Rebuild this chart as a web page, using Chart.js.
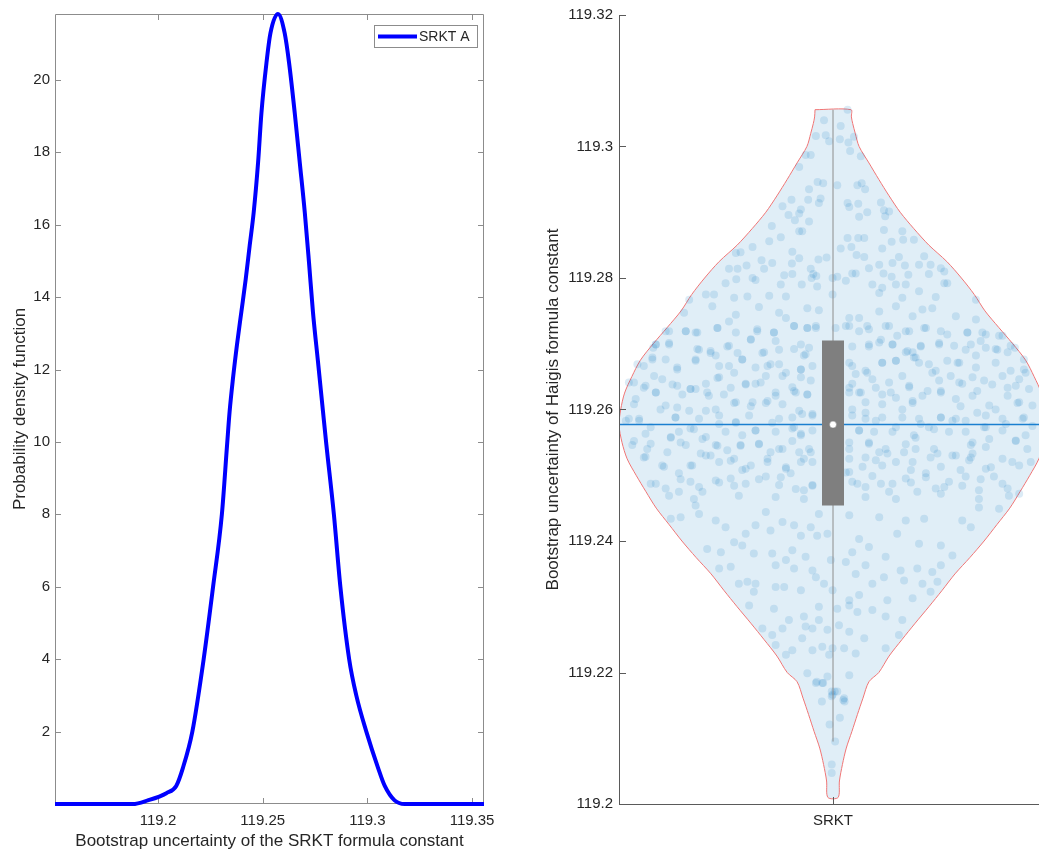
<!DOCTYPE html>
<html>
<head>
<meta charset="utf-8">
<script src="https://cdn.jsdelivr.net/npm/chart.js@4.4.1/dist/chart.umd.min.js"></script>
<style>
  html, body { margin: 0; padding: 0; background: #fff; }
  body { width: 1039px; height: 852px; position: relative; overflow: hidden; }
  #pdfChart { position: absolute; left: 0; top: 0; }
  #violinChart { position: absolute; left: 530px; top: 0; }
</style>
</head>
<body>
<canvas id="pdfChart" width="520" height="852"></canvas>
<canvas id="violinChart" width="509" height="852"></canvas>
<script>
const FONT = "'Liberation Sans', Arial, sans-serif";
const TEXT = "#262626";

// left panel: density of the bootstrapped SRKT A constant
const pdfLabel = "SRKT A";
const pdfX = [119.1508, 119.170, 119.1879, 119.1951, 119.2040, 119.2087, 119.2119, 119.2164, 119.2218, 119.2263,
  119.2305, 119.2330, 119.2342, 119.2358, 119.2377, 119.2398, 119.2419, 119.2438, 119.2457, 119.2478, 119.2494,
  119.2518, 119.2537, 119.2573, 119.2605, 119.2626, 119.2653, 119.2677, 119.2701, 119.2721, 119.2740, 119.2764,
  119.2788, 119.2804, 119.2840, 119.2871, 119.2913, 119.2947, 119.2995, 119.3051, 119.3083, 119.3130, 119.3178,
  119.335, 119.3557];
const pdfY = [0, 0, 0, 0.1, 0.3, 0.5, 1, 2, 4, 6,
  8, 9.93, 10.84, 11.75, 12.68, 13.59, 14.5, 15.43, 16.34, 17.72, 19.09,
  20.47, 21.29, 21.82, 21.29, 20.47, 19.09, 17.72, 16.34, 14.97, 13.59, 12.22,
  10.84, 9.93, 8, 6, 4, 3, 2, 1, 0.5, 0.1, 0,
  0, 0];
const pdfXTicks = [119.2, 119.25, 119.3, 119.35];
const pdfYTicks = [2, 4, 6, 8, 10, 12, 14, 16, 18, 20];
const pdfXMin = 119.1508, pdfXMax = 119.3557, pdfYMax = 21.82;

// right panel: violin of the bootstrapped Haigis constant
const categories = ["SRKT"];
const violinYTicks = [119.2, 119.22, 119.24, 119.26, 119.28, 119.3, 119.32];
const violinY = [119.3056, 119.3045, 119.3035, 119.302, 119.300, 119.2975, 119.295, 119.2925, 119.290, 119.2875,
  119.285, 119.2825, 119.280, 119.2775, 119.275, 119.2725, 119.270, 119.2675, 119.265, 119.2625, 119.260,
  119.2577, 119.255, 119.2525, 119.250, 119.2475, 119.245, 119.2425, 119.240, 119.2375, 119.235, 119.2325,
  119.230, 119.2275, 119.225, 119.2225, 119.220, 119.2186, 119.2161, 119.2136, 119.211, 119.2085, 119.206,
  119.2035, 119.201];
const violinHW = [0.042, 0.043, 0.046, 0.052, 0.061, 0.084, 0.107, 0.131, 0.157, 0.189,
  0.224, 0.266, 0.300, 0.330, 0.355, 0.387, 0.420, 0.450, 0.470, 0.487, 0.496,
  0.5, 0.493, 0.481, 0.460, 0.437, 0.413, 0.383, 0.353, 0.320, 0.285, 0.255,
  0.224, 0.192, 0.161, 0.131, 0.107, 0.084, 0.070, 0.057, 0.044, 0.031, 0.022,
  0.015, 0.012];
const boxQ1 = 119.2454, boxQ3 = 119.2705;
const whiskerLow = 119.2095, whiskerHigh = 119.3056;
const medianValue = 119.2577;
const meanValue = 119.2577;
const dots = [
  [0.979,119.3040],[1.018,119.3031],[1.034,119.3056],[0.960,119.3016],[0.983,119.3017],[0.991,119.3008],[1.036,119.3006],
  [1.049,119.3015],[1.016,119.3011],[1.040,119.2993],[0.936,119.2987],[0.948,119.2987],[0.921,119.2969],[1.065,119.2985],
  [0.964,119.2946],[0.977,119.2944],[1.010,119.2941],[1.057,119.2941],[1.067,119.2944],[1.075,119.2935],[0.944,119.2935],
  [0.942,119.2919],[0.971,119.2921],[0.967,119.2914],[0.903,119.2919],[0.882,119.2909],[0.925,119.2904],[0.921,119.2898],
  [0.911,119.2888],[0.896,119.2896],[0.944,119.2886],[0.921,119.2871],[0.928,119.2871],[1.034,119.2914],[1.038,119.2908],
  [1.059,119.2913],[1.080,119.2900],[1.061,119.2893],[1.112,119.2915],[1.119,119.2903],[1.131,119.2901],[1.122,119.2894],
  [0.857,119.2879],[0.878,119.2862],[0.851,119.2856],[0.812,119.2847],[0.905,119.2840],[0.921,119.2830],[0.966,119.2828],
  [0.985,119.2831],[1.018,119.2845],[1.043,119.2847],[1.034,119.2861],[1.059,119.2861],[1.073,119.2861],[1.119,119.2873],
  [1.162,119.2871],[1.115,119.2845],[1.137,119.2855],[1.164,119.2858],[1.189,119.2858],[1.055,119.2835],[1.073,119.2832],
  [1.154,119.2832],[1.213,119.2833],[0.773,119.2838],[0.784,119.2839],[0.798,119.2819],[0.777,119.2814],[0.757,119.2814],
  [0.833,119.2827],[0.858,119.2823],[0.839,119.2814],[0.904,119.2822],[0.886,119.2804],[0.905,119.2806],[0.948,119.2814],
  [0.954,119.2806],[0.950,119.2800],[0.961,119.2803],[0.999,119.2800],[1.010,119.2802],[1.030,119.2796],[1.045,119.2807],
  [1.053,119.2807],[1.084,119.2815],[1.108,119.2820],[1.139,119.2823],[1.168,119.2819],[1.201,119.2820],[1.228,119.2820],
  [1.252,119.2815],[1.260,119.2810],[1.224,119.2806],[1.118,119.2807],[1.137,119.2802],[1.176,119.2805],[0.774,119.2798],
  [0.749,119.2792],[0.819,119.2797],[0.812,119.2800],[0.878,119.2790],[0.927,119.2790],[0.963,119.2787],[0.999,119.2775],
  [1.092,119.2790],[1.115,119.2785],[1.147,119.2790],[1.170,119.2790],[1.201,119.2780],[1.267,119.2792],[1.260,119.2792],
  [0.703,119.2775],[0.722,119.2775],[0.769,119.2770],[0.800,119.2772],[0.851,119.2773],[0.890,119.2772],[1.108,119.2777],
  [1.162,119.2770],[1.240,119.2771],[1.334,119.2767],[0.664,119.2767],
  [0.652,119.2747],[0.718,119.2757],[0.773,119.2744],[0.827,119.2756],[0.874,119.2747],[0.940,119.2754],[0.967,119.2751],
  [1.038,119.2739],[1.061,119.2739],[1.108,119.2749],[1.147,119.2757],[1.186,119.2742],[1.209,119.2752],[1.232,119.2754],
  [1.287,119.2742],[1.334,119.2737],[0.609,119.2719],[0.656,119.2719],[0.683,119.2717],[0.730,119.2724],[0.757,119.2734],
  [0.823,119.2719],[0.862,119.2717],[0.890,119.2739],[0.909,119.2727],[0.940,119.2724],[0.960,119.2727],[1.006,119.2724],
  [1.030,119.2727],[1.080,119.2727],[1.131,119.2727],[1.170,119.2719],[1.217,119.2724],[1.267,119.2714],[1.314,119.2717],
  [1.357,119.2714],[1.396,119.2712],[0.580,119.2694],[0.586,119.2699],[0.617,119.2701],[0.687,119.2691],[0.714,119.2686],
  [0.753,119.2696],[0.777,119.2686],[0.808,119.2706],[0.835,119.2686],[0.874,119.2691],[0.925,119.2699],[0.936,119.2684],
  [1.045,119.2696],[1.084,119.2696],[1.112,119.2706],[1.139,119.2699],[1.174,119.2689],[1.205,119.2696],[1.248,119.2701],
  [1.310,119.2691],[1.345,119.2704],[1.384,119.2691],[1.425,119.2694],[0.543,119.2669],[0.578,119.2679],[0.636,119.2661],
  [0.679,119.2674],[0.734,119.2666],[0.788,119.2676],[0.819,119.2664],[0.854,119.2669],[0.890,119.2656],[0.925,119.2661],
  [1.045,119.2666],[1.076,119.2659],[1.115,119.2671],[1.147,119.2674],[1.189,119.2679],[1.201,119.2671],[1.240,119.2659],
  [1.291,119.2671],[1.334,119.2664],[1.380,119.2671],[1.415,119.2659],[1.446,119.2661],[0.523,119.2641],[0.558,119.2633],
  [0.586,119.2626],[0.625,119.2638],[0.667,119.2631],[0.706,119.2626],[0.730,119.2648],[0.761,119.2633],[0.796,119.2638],
  [0.831,119.2641],[0.866,119.2626],[0.909,119.2628],[0.940,119.2623],[1.038,119.2633],[1.065,119.2626],[1.100,119.2633],
  [1.135,119.2626],[1.178,119.2636],[1.221,119.2628],[1.252,119.2628],[1.295,119.2641],[1.337,119.2628],[1.372,119.2638],
  [1.408,119.2633],[1.435,119.2646],[1.458,119.2631],[0.535,119.2608],[0.597,119.2600],[0.636,119.2603],[0.664,119.2598],
  [0.703,119.2598],[0.726,119.2600],[0.769,119.2610],[0.808,119.2605],[0.843,119.2610],[0.882,119.2608],[0.921,119.2598],
  [0.952,119.2593],[1.045,119.2600],[1.076,119.2595],[1.115,119.2608],[1.162,119.2600],[1.186,119.2610],[1.252,119.2588],
  [1.298,119.2605],[1.337,119.2595],[1.380,119.2600],[1.431,119.2610],[1.446,119.2588],[0.516,119.2583],[0.547,119.2583],
  [0.574,119.2573],[0.632,119.2588],[0.675,119.2570],[0.734,119.2578],[0.773,119.2580],[0.819,119.2568],[0.858,119.2580],
  [0.909,119.2573],[0.925,119.2563],[1.061,119.2568],[1.100,119.2583],[1.147,119.2573],[1.205,119.2578],[1.236,119.2570],
  [1.279,119.2583],[1.353,119.2573],[1.404,119.2578],[1.466,119.2575],[0.535,119.2552],[0.566,119.2540],[0.621,119.2557],
  [0.644,119.2550],[0.695,119.2555],[0.730,119.2545],[0.784,119.2545],[0.827,119.2547],[0.874,119.2540],[0.905,119.2552],
  [0.944,119.2540],[1.038,119.2550],[1.084,119.2550],[1.123,119.2540],[1.170,119.2547],[1.193,119.2557],[1.236,119.2540],
  [1.326,119.2550],[1.365,119.2555],[1.427,119.2552],[0.558,119.2527],[0.601,119.2515],[0.667,119.2515],[0.703,119.2530],
  [0.761,119.2522],[0.796,119.2510],[0.847,119.2525],[0.890,119.2512],[0.932,119.2525],[1.038,119.2525],[1.076,119.2527],
  [1.115,119.2515],[1.186,119.2520],[1.228,119.2527],[1.287,119.2530],[1.322,119.2527],[1.369,119.2512],[1.419,119.2520],
  [0.586,119.2487],[0.644,119.2494],[0.687,119.2482],[0.734,119.2489],[0.769,119.2484],[0.827,119.2494],[0.878,119.2497],
  [0.913,119.2479],[0.952,119.2484],[1.030,119.2504],[1.057,119.2487],[1.092,119.2499],[1.139,119.2487],[1.182,119.2489],
  [1.217,119.2497],[1.260,119.2482],[1.302,119.2484],[1.345,119.2494],[1.396,119.2487],[0.617,119.2469],[0.675,119.2464],
  [0.780,119.2469],[0.866,119.2467],[0.932,119.2464],[1.076,119.2467],[1.147,119.2464],[1.252,119.2472],[1.341,119.2464],
  [1.411,119.2469],
  [0.617,119.2719],[0.656,119.2719],[0.679,119.2717],[0.730,119.2724],[0.773,119.2717],[0.823,119.2722],[0.862,119.2717],
  [0.909,119.2727],[0.940,119.2724],[0.960,119.2724],[1.038,119.2727],[1.061,119.2719],[1.084,119.2722],[1.123,119.2727],
  [1.150,119.2712],[1.178,119.2719],[1.213,119.2724],[1.252,119.2719],[1.314,119.2717],[1.349,119.2717],[1.388,119.2712],
  [0.586,119.2699],[0.617,119.2699],[0.683,119.2692],[0.714,119.2689],[0.757,119.2697],[0.808,119.2707],[0.839,119.2687],
  [0.866,119.2704],[0.909,119.2692],[0.932,119.2682],[0.944,119.2694],[1.084,119.2699],[1.108,119.2702],[1.139,119.2699],
  [1.186,119.2687],[1.205,119.2697],[1.248,119.2699],[1.283,119.2697],[1.322,119.2699],[1.357,119.2694],[1.415,119.2697],
  [0.558,119.2666],[0.578,119.2676],[0.609,119.2676],[0.636,119.2664],[0.679,119.2676],[0.726,119.2682],[0.757,119.2666],
  [0.788,119.2676],[0.847,119.2666],[0.874,119.2669],[0.925,119.2661],[0.952,119.2666],[1.038,119.2671],[1.053,119.2654],
  [1.080,119.2656],[1.115,119.2671],[1.147,119.2674],[1.170,119.2687],[1.193,119.2679],[1.224,119.2669],[1.267,119.2674],
  [1.295,119.2671],[1.334,119.2682],[1.380,119.2692],[1.408,119.2687],[1.446,119.2676],
  [0.535,119.2641],[0.562,119.2636],[0.582,119.2651],[0.601,119.2646],[0.636,119.2636],[0.679,119.2631],[0.703,119.2639],
  [0.734,119.2649],[0.769,119.2656],[0.796,119.2639],[0.819,119.2639],[0.843,119.2651],[0.882,119.2651],[0.905,119.2634],
  [0.925,119.2649],[0.948,119.2644],[1.045,119.2639],[1.061,119.2626],[1.092,119.2646],[1.131,119.2641],[1.162,119.2651],
  [1.178,119.2634],[1.232,119.2656],[1.248,119.2644],[1.275,119.2651],[1.302,119.2639],[1.326,119.2649],[1.353,119.2644],
  [1.396,119.2651],[1.427,119.2636],[1.450,119.2656],
  [0.539,119.2616],[0.586,119.2626],[0.609,119.2606],[0.648,119.2623],[0.667,119.2631],[0.710,119.2621],[0.745,119.2623],
  [0.773,119.2611],[0.812,119.2611],[0.847,119.2613],[0.866,119.2621],[0.913,119.2626],[0.940,119.2623],[1.038,119.2626],
  [1.076,119.2611],[1.115,119.2623],[1.147,119.2618],[1.186,119.2613],[1.209,119.2621],[1.252,119.2626],[1.287,119.2616],
  [1.326,119.2621],[1.365,119.2606],[1.408,119.2621],[1.435,119.2611],[1.466,119.2606],
  [0.523,119.2586],[0.547,119.2586],[0.632,119.2588],[0.687,119.2586],[0.734,119.2591],[0.773,119.2581],[0.804,119.2591],
  [0.874,119.2586],[0.905,119.2588],[0.928,119.2593],[0.952,119.2591],[1.045,119.2591],[1.076,119.2586],[1.115,119.2588],
  [1.162,119.2588],[1.201,119.2586],[1.252,119.2588],[1.287,119.2586],[1.310,119.2583],[1.357,119.2591],[1.396,119.2586],
  [1.443,119.2586],
  [0.562,119.2563],[0.621,119.2558],[0.640,119.2566],[0.667,119.2571],[0.703,119.2558],[0.749,119.2566],[0.788,119.2561],
  [0.819,119.2568],[0.866,119.2566],[0.905,119.2571],[0.925,119.2561],[0.952,119.2568],[1.061,119.2568],[1.096,119.2566],
  [1.139,119.2566],[1.189,119.2561],[1.224,119.2573],[1.271,119.2566],[1.310,119.2566],[1.357,119.2573],[1.396,119.2568],
  [1.450,119.2561],
  [0.531,119.2546],[0.574,119.2548],[0.613,119.2535],[0.656,119.2546],[0.691,119.2533],[0.726,119.2546],[0.753,119.2538],
  [0.784,119.2546],[0.827,119.2548],[0.854,119.2535],[0.882,119.2540],[0.921,119.2535],[0.948,119.2535],[1.038,119.2540],
  [1.084,119.2548],[1.108,119.2535],[1.127,119.2533],[1.166,119.2535],[1.193,119.2540],[1.244,119.2533],[1.279,119.2530],
  [1.322,119.2546],[1.326,119.2533],[1.357,119.2543],[1.427,119.2553],[1.454,119.2540],
  [0.562,119.2528],[0.605,119.2513],[0.640,119.2503],[0.671,119.2515],[0.714,119.2530],[0.734,119.2520],[0.769,119.2525],
  [0.788,119.2508],[0.808,119.2515],[0.847,119.2520],[0.890,119.2510],[0.925,119.2520],[0.952,119.2520],[1.038,119.2505],
  [1.069,119.2513],[1.100,119.2523],[1.147,119.2520],[1.182,119.2508],[1.217,119.2503],[1.252,119.2513],[1.298,119.2508],
  [1.318,119.2523],[1.357,119.2510],[1.396,119.2525],[1.435,119.2515],[1.462,119.2520],
  [0.574,119.2487],[0.609,119.2480],[0.640,119.2475],[0.667,119.2490],[0.695,119.2475],[0.726,119.2492],[0.761,119.2495],
  [0.796,119.2487],[0.843,119.2498],[0.874,119.2485],[0.901,119.2503],[0.932,119.2477],[0.952,119.2485],[1.045,119.2490],
  [1.076,119.2482],[1.112,119.2487],[1.131,119.2475],[1.170,119.2495],[1.197,119.2475],[1.240,119.2480],[1.271,119.2490],
  [1.310,119.2498],[1.341,119.2477],[1.376,119.2498],[1.408,119.2480],[1.435,119.2472],
  [0.621,119.2434],[0.644,119.2436],[0.679,119.2454],[0.687,119.2441],[0.726,119.2431],[0.749,119.2421],[0.769,119.2398],
  [0.796,119.2411],[0.819,119.2424],[0.843,119.2444],[0.854,119.2416],[0.882,119.2429],[0.909,119.2424],[0.925,119.2408],
  [0.948,119.2421],[0.963,119.2408],[0.987,119.2411],[0.967,119.2441],[1.038,119.2439],[1.061,119.2403],[1.084,119.2391],
  [1.045,119.2383],[1.108,119.2436],[1.150,119.2411],[1.170,119.2431],[1.213,119.2434],[1.201,119.2396],[1.252,119.2393],
  [1.279,119.2378],[1.322,119.2421],[1.341,119.2451],[1.388,119.2449],[1.302,119.2431],[0.706,119.2388],[0.738,119.2383],
  [0.788,119.2393],[0.815,119.2381],[0.858,119.2381],[0.905,119.2386],[0.936,119.2376],[0.995,119.2371],[1.030,119.2368],
  [1.076,119.2363],[1.123,119.2376],[1.158,119.2355],[1.197,119.2358],[1.232,119.2353],[1.252,119.2363],[0.734,119.2358],
  [0.761,119.2361],[0.800,119.2338],[0.819,119.2335],[0.866,119.2363],[0.890,119.2371],[0.909,119.2358],[0.952,119.2355],
  [0.960,119.2345],[0.979,119.2335],[1.053,119.2350],[1.092,119.2335],[1.119,119.2345],[1.166,119.2340],[1.209,119.2335],
  [1.244,119.2338],[1.228,119.2323],[0.780,119.2335],[0.815,119.2323],[0.866,119.2330],[0.886,119.2330],[0.925,119.2325],
  [0.999,119.2325],[1.038,119.2310],[1.061,119.2318],[1.127,119.2310],[1.186,119.2313],[0.804,119.2302],[0.862,119.2297],
  [0.897,119.2280],[0.932,119.2285],[0.967,119.2300],[1.010,119.2297],[1.038,119.2302],[1.057,119.2292],[1.092,119.2295],
  [1.123,119.2285],[1.162,119.2280],[0.835,119.2267],[0.858,119.2257],[0.882,119.2267],[0.936,119.2270],[0.952,119.2267],
  [0.967,119.2280],[0.987,119.2265],[1.014,119.2272],[1.038,119.2262],[1.073,119.2252],[1.154,119.2257],[1.123,119.2237],
  [0.928,119.2252],[0.866,119.2242],[0.905,119.2234],[0.952,119.2234],[0.975,119.2239],[0.999,119.2237],[1.026,119.2237],
  [0.991,119.2227],[0.890,119.2227],[1.053,119.2229],[0.940,119.2199],[0.960,119.2184],[0.975,119.2184],[0.987,119.2194],
  [1.038,119.2196],[1.010,119.2171],[1.026,119.2161],[0.999,119.2166],
  [0.977,119.2184],[0.962,119.2186],[0.997,119.2171],[1.004,119.2171],[1.024,119.2158],[1.027,119.2156],[0.974,119.2156],
  [0.997,119.2164],[1.005,119.2095],[0.997,119.2060],[0.997,119.2047],[0.992,119.2121],[1.016,119.2131]
];

Chart.defaults.font.family = FONT;
Chart.defaults.color = TEXT;

// framed axes with inward ticks on all four sides
const boxFrame = {
  id: "boxFrame",
  beforeDatasetsDraw(chart) {
    const { ctx, chartArea: a, scales } = chart;
    ctx.save();
    ctx.strokeStyle = "#8c8c8c";
    ctx.lineWidth = 1;
    ctx.beginPath();
    ctx.rect(a.left + 0.5, a.top + 0.5, a.right - a.left - 1, a.bottom - a.top - 1);
    scales.x.ticks.forEach((t) => {
      const px = Math.round(scales.x.getPixelForValue(t.value)) + 0.5;
      ctx.moveTo(px, a.bottom); ctx.lineTo(px, a.bottom - 6);
      ctx.moveTo(px, a.top); ctx.lineTo(px, a.top + 6);
    });
    scales.y.ticks.forEach((t) => {
      const py = Math.round(scales.y.getPixelForValue(t.value)) + 0.5;
      ctx.moveTo(a.left, py); ctx.lineTo(a.left + 6, py);
      ctx.moveTo(a.right, py); ctx.lineTo(a.right - 6, py);
    });
    ctx.stroke();
    ctx.restore();
  },
};

// legend boxed in the upper right corner of the plot
const insideLegend = {
  id: "insideLegend",
  afterDraw(chart) {
    const { ctx, chartArea: a } = chart;
    const ds = chart.data.datasets[0];
    const x = a.right - 110, y = a.top + 11, w = 103, h = 22;
    ctx.save();
    ctx.fillStyle = "#fff";
    ctx.fillRect(x, y, w, h);
    ctx.strokeStyle = "#8c8c8c";
    ctx.lineWidth = 1;
    ctx.strokeRect(x + 0.5, y + 0.5, w, h);
    ctx.strokeStyle = ds.borderColor;
    ctx.lineWidth = 4;
    ctx.beginPath();
    ctx.moveTo(x + 4, y + 11.5); ctx.lineTo(x + 43, y + 11.5);
    ctx.stroke();
    ctx.fillStyle = TEXT;
    ctx.font = "14px " + FONT;
    ctx.textBaseline = "middle";
    ctx.fillText(ds.label, x + 45, y + 12);
    ctx.restore();
  },
};

const noSidePadding = (s, h) => { s.height = h; s.paddingLeft = 0; s.paddingRight = 0; };

new Chart(document.getElementById("pdfChart"), {
  type: "line",
  data: {
    datasets: [
      {
        label: pdfLabel,
        data: pdfX.map((x, i) => ({ x: x, y: pdfY[i] })),
        borderColor: "#0000ff",
        borderWidth: 4,
        pointRadius: 0,
        cubicInterpolationMode: "monotone",
        clip: 4,
      },
    ],
  },
  options: {
    responsive: false,
    animation: false,
    events: [],
    layout: { autoPadding: false, padding: { top: 11, right: 36, left: 0, bottom: 0 } },
    plugins: { legend: { display: false }, tooltip: { enabled: false } },
    scales: {
      x: {
        type: "linear",
        min: pdfXMin,
        max: pdfXMax,
        grid: { display: false, drawTicks: false },
        border: { display: false },
        afterBuildTicks: (s) => { s.ticks = pdfXTicks.map((v) => ({ value: v })); },
        afterFit: (s) => noSidePadding(s, 48),
        ticks: { font: { size: 15 }, padding: 8, maxRotation: 0, callback: (v) => String(v) },
        title: { display: true, text: "Bootstrap uncertainty of the SRKT formula constant", font: { size: 17 }, padding: { top: 0, bottom: 0 } },
      },
      y: {
        min: 0,
        max: pdfYMax,
        grid: { display: false, drawTicks: false },
        border: { display: false },
        afterBuildTicks: (s) => { s.ticks = pdfYTicks.map((v) => ({ value: v })); },
        afterFit: (s) => { s.width = 55; },
        ticks: { font: { size: 15 }, padding: 5, callback: (v) => String(v) },
        title: { display: true, text: "Probability density function", font: { size: 17 }, padding: { top: 10, bottom: 0 } },
      },
    },
  },
  plugins: [boxFrame, insideLegend],
});

// left and bottom axis lines with inward ticks
const violinAxes = {
  id: "violinAxes",
  afterDatasetsDraw(chart) {
    const { ctx, chartArea: a, scales } = chart;
    ctx.save();
    ctx.strokeStyle = "#5a5a5a";
    ctx.lineWidth = 1;
    ctx.beginPath();
    ctx.moveTo(a.left + 0.5, a.top);
    ctx.lineTo(a.left + 0.5, a.bottom + 0.5);
    ctx.lineTo(a.right, a.bottom + 0.5);
    scales.y.ticks.forEach((t) => {
      const py = Math.round(scales.y.getPixelForValue(t.value)) + 0.5;
      ctx.moveTo(a.left, py); ctx.lineTo(a.left + 7, py);
    });
    scales.x.ticks.forEach((t) => {
      const px = Math.round(scales.x.getPixelForValue(t.value)) + 0.5;
      ctx.moveTo(px, a.bottom); ctx.lineTo(px, a.bottom - 7);
    });
    ctx.stroke();
    ctx.restore();
  },
};

const violinOutline = violinY.map((y, i) => ({ x: 1 - violinHW[i], y: y }))
  .concat(violinY.map((y, i) => ({ x: 1 + violinHW[i], y: y })).reverse());
violinOutline.push(violinOutline[0]);

new Chart(document.getElementById("violinChart"), {
  type: "line",
  data: {
    datasets: [
      {
        data: violinOutline,
        borderColor: "#f07575",
        borderWidth: 1,
        backgroundColor: "rgba(0,114,189,0.12)",
        fill: "shape",
        tension: 0.3,
        pointRadius: 0,
        order: 6,
      },
      {
        data: dots.map((d) => ({ x: d[0], y: d[1] })),
        showLine: false,
        pointRadius: 4,
        pointBorderWidth: 0,
        pointBackgroundColor: "rgba(0,114,189,0.14)",
        order: 5,
      },
      {
        data: [{ x: 1, y: whiskerLow }, { x: 1, y: whiskerHigh }],
        borderColor: "#8c8c8c",
        borderWidth: 1,
        pointRadius: 0,
        order: 4,
      },
      {
        data: [{ x: 0.5, y: meanValue }, { x: 1.4813, y: meanValue }],
        borderColor: "#1a7fd0",
        borderWidth: 1.5,
        pointRadius: 0,
        order: 3,
      },
      {
        data: [{ x: 1, y: boxQ1 }, { x: 1, y: boxQ3 }],
        borderColor: "#7f7f7f",
        borderWidth: 22,
        borderCapStyle: "butt",
        pointRadius: 0,
        order: 2,
      },
      {
        data: [{ x: 1, y: medianValue }],
        showLine: false,
        pointRadius: 3.5,
        pointBorderWidth: 0.5,
        pointBorderColor: "#7f7f7f",
        pointBackgroundColor: "#ffffff",
        order: 1,
      },
    ],
  },
  options: {
    responsive: false,
    animation: false,
    events: [],
    layout: { autoPadding: false, padding: { top: 11, right: 0, left: 0, bottom: 0 } },
    plugins: { legend: { display: false }, tooltip: { enabled: false } },
    scales: {
      x: {
        type: "linear",
        min: 0.5,
        max: 1.4813,
        grid: { display: false, drawTicks: false },
        border: { display: false },
        afterBuildTicks: (s) => { s.ticks = categories.map((c, i) => ({ value: i + 1 })); },
        afterFit: (s) => noSidePadding(s, 48),
        ticks: { font: { size: 15 }, padding: 8, maxRotation: 0, callback: (v) => categories[Math.round(v) - 1] },
      },
      y: {
        min: 119.2,
        max: 119.32,
        grid: { display: false, drawTicks: false },
        border: { display: false },
        afterBuildTicks: (s) => { s.ticks = violinYTicks.map((v) => ({ value: v })); },
        afterFit: (s) => { s.width = 89; },
        ticks: { font: { size: 15 }, padding: 6, callback: (v) => String(v) },
        title: { display: true, text: "Bootstrap uncertainty of Haigis formula constant", font: { size: 17 }, padding: { top: 13, bottom: 0 } },
      },
    },
  },
  plugins: [violinAxes],
});
</script>
</body>
</html>
